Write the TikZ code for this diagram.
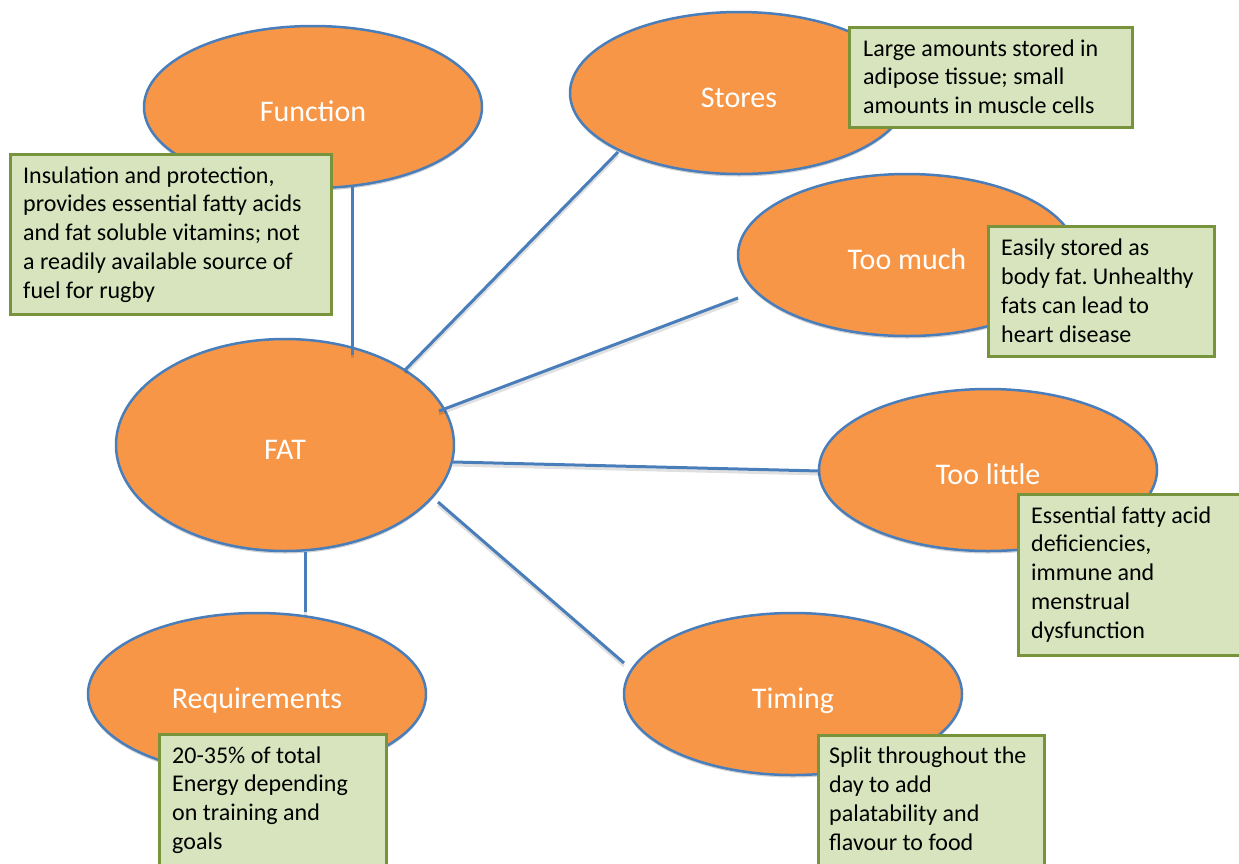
\documentclass[tikz,border=0pt]{standalone}
\usepackage{fontspec}
\setmainfont{Carlito}
\frenchspacing
\usetikzlibrary{shapes.geometric,calc,shadows}
\definecolor{orfill}{HTML}{F79646}
\definecolor{blueln}{HTML}{4A7EBB}
\definecolor{grfill}{HTML}{D7E4BD}
\definecolor{grline}{HTML}{77933C}
\tikzset{
  topic/.style={ellipse, draw=blueln, line width=2.5pt, fill=orfill,
    minimum width=338pt, minimum height=162pt, inner sep=0pt, text=white,
    font=\fontsize{30}{36}\selectfont, text height=28pt, text depth=0pt,
    drop shadow={shadow xshift=0pt, shadow yshift=-2.5pt, opacity=0.25, fill=black!70}},
  link/.style={draw=blueln, line width=3pt,
    preaction={draw=black, opacity=0.12, line width=3pt, transform canvas={yshift=-3pt}}},
  notebox/.style={rectangle, draw=grline, line width=2.8pt, fill=grfill, inner sep=0pt, anchor=north west},
  notetext/.style={anchor=north west, inner sep=0pt, align=left,
    font=\fontsize{24}{28.8}\selectfont, text=black},
}
\begin{document}
\begin{tikzpicture}[x=1pt,y=-1pt]
\useasboundingbox (0,0) rectangle (1239,863);
\clip (0,0) rectangle (1239,863);
% topics
\node[topic] (fn) at (313,107) {Function};
\node[topic] (st) at (739,93) {Stores};
\node[topic] (tm) at (907,255) {Too much};
\node[topic, minimum height=212pt] (fat) at (285,445) {FAT};
\node[topic] (tl) at (988,470) {Too little};
\node[topic] (ti) at (793,694) {Timing};
\node[topic] (rq) at (257,694) {Requirements};
% connectors
\draw[link] ($(fn.center)+(39,79)$) -- ($(fat.center)+(67,-90)$);
\draw[link] ($(st.center)+(-121,59)$) -- ($(fat.center)+(120,-75)$);
\draw[link] ($(tm.center)+(-169,43)$) -- ($(fat.center)+(154,-34)$);
\draw[link] ($(tl.center)+(-168,1)$) -- ($(fat.center)+(168,17)$);
\draw[link] ($(ti.center)+(-169,-31)$) -- ($(fat.center)+(153,57)$);
\draw[link] ($(rq.center)+(48,-82)$) -- ($(fat.center)+(20,107)$);
% notes
\node[notebox, minimum width=321pt, minimum height=160pt] (fnbox) at (9,153) {};
\node[notetext] (fntext) at ($(fnbox.north west)+(14,9.8)$) {\strut Insulation and protection,\\provides essential fatty acids\\and fat soluble vitamins; not\\a readily available source of\\fuel for rugby};
\node[notebox, minimum width=283pt, minimum height=100pt] (stbox) at (848,26) {};
\node[notetext] (sttext) at ($(stbox.north west)+(15,9.8)$) {\strut Large amounts stored in\\adipose tissue; small\\amounts in muscle cells};
\node[notebox, minimum width=226pt, minimum height=130pt] (tmbox) at (987,225) {};
\node[notetext] (tmtext) at ($(tmbox.north west)+(14,10.5)$) {\strut Easily stored as\\body fat. Unhealthy\\fats can lead to\\heart disease};
\node[notebox, minimum width=230pt, minimum height=161pt] (tlbox) at (1017,493) {};
\node[notetext] (tltext) at ($(tlbox.north west)+(14,9.8)$) {\strut Essential fatty acid\\deficiencies,\\immune and\\menstrual\\dysfunction};
\node[notebox, minimum width=227pt, minimum height=145pt] (rqbox) at (158,733) {};
\node[notetext] (rqtext) at ($(rqbox.north west)+(14,9.8)$) {\strut 20-35\% of total\\Energy depending\\on training and\\goals};
\node[notebox, minimum width=226pt, minimum height=145pt] (tibox) at (817,734) {};
\node[notetext] (titext) at ($(tibox.north west)+(12,9.3)$) {\strut Split throughout the\\day to add\\palatability and\\flavour to food};
\end{tikzpicture}
\end{document}
